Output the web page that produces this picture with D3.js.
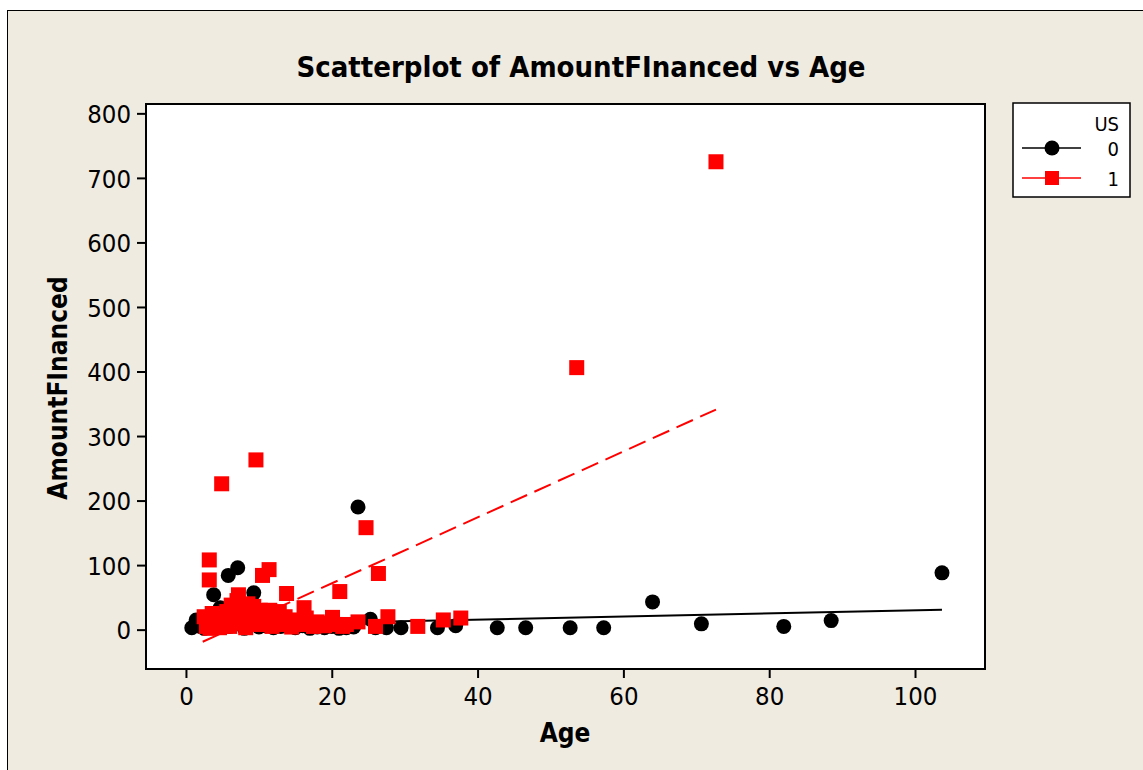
<!DOCTYPE html>
<html><head><meta charset="utf-8">
<script src="https://cdn.jsdelivr.net/npm/d3@7"></script>
<style>
html,body{margin:0;padding:0;background:#fff;}
text{font-family:"DejaVu Sans Condensed","DejaVu Sans",sans-serif;}
</style></head>
<body>
<svg id="chart" width="1143" height="770"></svg>
<script>
// ---- data ----
const xTicks = [0, 20, 40, 60, 80, 100];
const yTicks = [0, 100, 200, 300, 400, 500, 600, 700, 800];
const legendLabels = ["0", "1"];

// US = 0 (black circles)
const ageUS0 = [0.8,1.4,2,2.5,3,3.8,4.2,4.7,5.8,7.1,9.3,6,8,10,11,12,13,14,15,16,17,18,19,20,21,22,23,23.6,25.3,26,27.5,29.5,34.5,37,42.7,46.6,52.7,57.3,64,70.7,82,88.5,103.7];
const amtUS0 = [3,15,5,2,8,54,3,34,84,96,57,5,2,4,6,3,5,10,3,6,2,4,3,5,2,3,4,190,16,3,3,3,3,6,3,3,3,3,43,9,5,14,88];

// US = 1 (red squares)
const ageUS1 = [2.5,2.8,3,3.3,3.6,4,4.3,4.6,5,5.3,5.6,6,6.2,6.5,6.8,7,7.2,7.4,7.7,8,8.2,8.5,8.8,9,9.3,9.6,9.9,10.2,10.5,10.8,11.2,11.5,11.8,12.2,12.5,12.8,13.2,13.6,14,14.5,15,15.5,16.2,16.5,17,17.5,18,18.5,19,19.5,20.1,20.5,21.5,22,23.6,26,27.7,31.8,35.3,37.7,
  72.7,53.6,9.6,4.9,24.7,3.2,3.2,11.4,10.5,26.4,13.8,21.1];
const amtUS1 = [20,5,12,2,25,8,15,3,20,10,28,5,38,15,25,45,54,10,30,18,3,40,22,12,36,28,8,30,18,25,10,30,5,22,15,28,8,20,12,4,15,8,34,18,10,5,12,8,6,10,19,8,5,8,12,5,20,5,15,18,
  725,406,263,226,158,108,77,93,84,87,56,59];

// fitted lines [intercept, slope, xmin, xmax]
const fitUS0 = [6, 0.24, 0.8, 103.7];
const fitUS1 = [-30.5, 5.11, 2.3, 72.7];

// ---- drawing ----
const svg = d3.select("#chart");
const W = 1143, H = 770;
const bg = "#EFEBE1";
svg.append("rect").attr("x", 0).attr("y", 0).attr("width", W).attr("height", H).attr("fill", "#fff");
svg.append("rect").attr("x", 7.5).attr("y", 10.5).attr("width", W + 10).attr("height", H + 10)
  .attr("fill", bg).attr("stroke", "#000").attr("stroke-width", 1);

const L = 146, R = 985, T = 104, B = 669;
const x = d3.scaleLinear().domain([-5.48, 109.6]).range([L, R]);
const y = d3.scaleLinear().domain([-61, 814.5]).range([B, T]);

svg.append("rect").attr("x", L).attr("y", T).attr("width", R - L).attr("height", B - T)
  .attr("fill", "#fff");

// axes
const xAxis = d3.axisBottom(x).tickValues(xTicks).tickSize(9).tickPadding(6).tickFormat(d3.format("d"));
const yAxis = d3.axisLeft(y).tickValues(yTicks).tickSize(9).tickPadding(6).tickFormat(d3.format("d"));
const gx = svg.append("g").attr("transform", `translate(0,${B})`).call(xAxis);
const gy = svg.append("g").attr("transform", `translate(${L},0)`).call(yAxis);
[gx, gy].forEach(g => {
  g.select(".domain").remove();
  g.selectAll(".tick line").attr("stroke", "#000").attr("stroke-width", 2);
  g.selectAll(".tick text").attr("fill", "#000").style("font-size", "25.5px");
});
gx.selectAll(".tick text").attr("dy", "0.82em");
gy.selectAll(".tick text").attr("dy", "0.36em");

// clip for plot content
svg.append("clipPath").attr("id", "clip").append("rect")
  .attr("x", L).attr("y", T).attr("width", R - L).attr("height", B - T);
const plot = svg.append("g").attr("clip-path", "url(#clip)");

// fit lines
function fitLine(f) { return [[f[2], f[0] + f[1] * f[2]], [f[3], f[0] + f[1] * f[3]]]; }
const line = d3.line().x(d => x(d[0])).y(d => y(d[1]));
plot.append("path").attr("d", line(fitLine(fitUS0))).attr("fill", "none")
  .attr("stroke", "#000").attr("stroke-width", 2);
plot.append("path").attr("d", line(fitLine(fitUS1))).attr("fill", "none")
  .attr("stroke", "#f00").attr("stroke-width", 2).attr("stroke-dasharray", "18,8");

// points
const s0 = ageUS0.map((a, i) => [a, amtUS0[i]]);
const s1 = ageUS1.map((a, i) => [a, amtUS1[i]]);
plot.selectAll("circle.p0").data(s0).join("circle").attr("class", "p0")
  .attr("cx", d => x(d[0])).attr("cy", d => y(d[1])).attr("r", 7.5).attr("fill", "#000");
const sq = 15;
plot.selectAll("rect.p1").data(s1).join("rect").attr("class", "p1")
  .attr("x", d => x(d[0]) - sq / 2).attr("y", d => y(d[1]) - sq / 2)
  .attr("width", sq).attr("height", sq).attr("fill", "#f00");

// plot frame
svg.append("rect").attr("x", L).attr("y", T).attr("width", R - L).attr("height", B - T)
  .attr("fill", "none").attr("stroke", "#000").attr("stroke-width", 2);

// titles
svg.append("text").attr("x", 581).attr("y", 77).attr("text-anchor", "middle")
  .style("font-size", "29px").style("font-weight", "bold").text("Scatterplot of AmountFInanced vs Age");
svg.append("text").attr("x", 565).attr("y", 742).attr("text-anchor", "middle")
  .style("font-size", "26px").style("font-weight", "bold").text("Age");
svg.append("text").attr("transform", "translate(67,388) rotate(-90)").attr("text-anchor", "middle")
  .style("font-size", "26px").style("font-weight", "bold").text("AmountFInanced");

// legend
const lg = svg.append("g");
lg.append("rect").attr("x", 1013).attr("y", 103).attr("width", 117).attr("height", 94)
  .attr("fill", "#fff").attr("stroke", "#000").attr("stroke-width", 1.5);
lg.append("text").attr("x", 1119).attr("y", 131).attr("text-anchor", "end")
  .style("font-size", "20px").text("US");
const rows = [155, 185];
legendLabels.forEach((lab, i) => {
  const yy = rows[i] - 7;
  lg.append("line").attr("x1", 1022).attr("x2", 1081).attr("y1", yy).attr("y2", yy)
    .attr("stroke", i === 0 ? "#000" : "#f00").attr("stroke-width", 1.5);
  if (i === 0) lg.append("circle").attr("cx", 1052).attr("cy", yy).attr("r", 7.5).attr("fill", "#000");
  else lg.append("rect").attr("x", 1052 - 7).attr("y", yy - 7).attr("width", 14).attr("height", 14).attr("fill", "#f00");
  lg.append("text").attr("x", 1119).attr("y", rows[i] + 1).attr("text-anchor", "end")
    .style("font-size", "20px").text(lab);
});
</script>
</body></html>
